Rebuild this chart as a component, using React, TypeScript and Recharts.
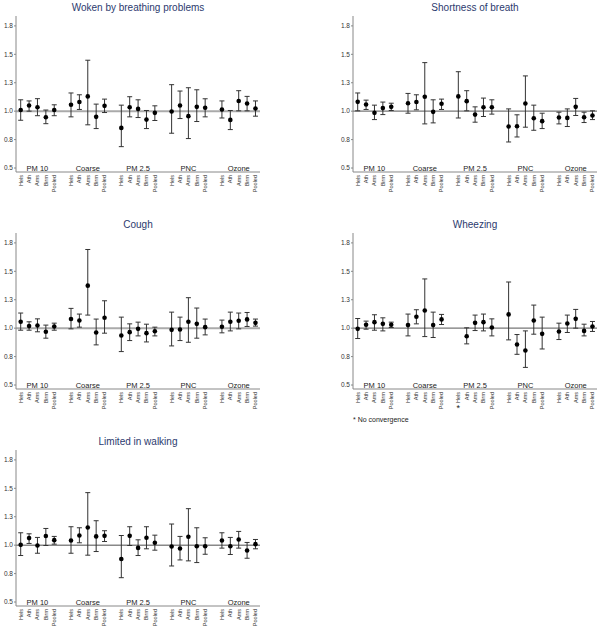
import React from 'react';
import { ScatterChart, Scatter, XAxis, YAxis, ErrorBar, ReferenceLine } from 'recharts';

const pollutants = ['PM 10', 'Coarse', 'PM 2.5', 'PNC', 'Ozone'];
const cities = ['Hels', 'Ath', 'Ams', 'Birm', 'Pooled'];
const yTicks = [0.5, 0.75, 1, 1.25, 1.5, 1.75];

// Woken by breathing problems
const wokenEst = [1.01, 1.05, 1.035, 0.947, 1.01, 1.056, 1.08, 1.13, 0.95, 1.047, 0.853, 1.035, 1.02, 0.926, 0.985, 0.997, 1.05, 0.956, 1.038, 1.03, 1.015, 0.923, 1.09, 1.068, 1.024];
const wokenLo = [0.92, 1.0, 0.96, 0.89, 0.96, 0.95, 1.015, 0.88, 0.847, 0.988, 0.688, 0.95, 0.944, 0.847, 0.918, 0.806, 0.935, 0.759, 0.909, 0.95, 0.94, 0.838, 1.003, 1.003, 0.956];
const wokenHi = [1.1, 1.09, 1.11, 1.01, 1.056, 1.16, 1.144, 1.448, 1.062, 1.106, 1.053, 1.127, 1.1, 1.006, 1.047, 1.233, 1.177, 1.206, 1.188, 1.109, 1.09, 1.006, 1.18, 1.13, 1.09];

// Shortness of breath
const breathEst = [1.082, 1.059, 0.985, 1.027, 1.038, 1.07, 1.08, 1.127, 0.994, 1.065, 1.13, 1.088, 0.97, 1.035, 1.035, 0.865, 0.867, 1.068, 0.938, 0.912, 0.944, 0.941, 1.038, 0.947, 0.962];
const breathLo = [1.003, 1.015, 0.926, 0.97, 1.006, 0.982, 1.012, 0.888, 0.897, 1.015, 0.94, 1.003, 0.903, 0.953, 0.974, 0.729, 0.773, 0.859, 0.832, 0.847, 0.888, 0.865, 0.962, 0.9, 0.926];
const breathHi = [1.16, 1.097, 1.053, 1.08, 1.07, 1.156, 1.144, 1.427, 1.1, 1.106, 1.347, 1.18, 1.038, 1.115, 1.1, 1.02, 0.968, 1.31, 1.053, 0.982, 0.991, 1.02, 1.112, 0.991, 1.003];

// Cough
const coughEst = [1.056, 1.018, 1.024, 0.968, 1.015, 1.08, 1.068, 1.374, 0.962, 1.091, 0.935, 0.965, 0.994, 0.956, 0.973, 0.985, 0.988, 1.056, 1.038, 1.009, 1.012, 1.056, 1.065, 1.077, 1.047];
const coughLo = [0.982, 0.982, 0.968, 0.912, 0.982, 0.994, 1.009, 1.115, 0.853, 0.956, 0.794, 0.891, 0.932, 0.879, 0.932, 0.844, 0.891, 0.876, 0.912, 0.941, 0.959, 0.976, 0.994, 1.015, 1.018];
const coughHi = [1.133, 1.056, 1.082, 1.027, 1.044, 1.174, 1.124, 1.692, 1.08, 1.241, 1.097, 1.038, 1.053, 1.035, 1.009, 1.141, 1.097, 1.268, 1.177, 1.08, 1.071, 1.141, 1.133, 1.138, 1.08];

// Wheezing (PM 2.5 Hels: no convergence)
const wheezeEst = [0.994, 1.03, 1.053, 1.038, 1.03, 1.027, 1.1, 1.156, 1.027, 1.077, null, 0.929, 1.047, 1.053, 1.006, 1.121, 0.856, 0.803, 1.068, 0.95, 0.971, 1.041, 1.082, 0.976, 1.015];
const wheezeLo = [0.909, 0.991, 0.982, 0.976, 1.006, 0.932, 1.038, 0.926, 0.918, 1.032, null, 0.862, 0.979, 0.976, 0.932, 0.897, 0.77, 0.655, 0.947, 0.817, 0.9, 0.962, 1.0, 0.932, 0.971];
const wheezeHi = [1.085, 1.062, 1.118, 1.091, 1.053, 1.124, 1.162, 1.433, 1.141, 1.121, null, 1.003, 1.115, 1.124, 1.082, 1.406, 0.944, 0.976, 1.203, 1.097, 1.044, 1.115, 1.165, 1.035, 1.059];

// Limited in walking
const walkEst = [1.003, 1.062, 0.997, 1.08, 1.044, 1.041, 1.085, 1.156, 1.077, 1.082, 0.879, 1.082, 0.976, 1.065, 1.021, 0.988, 0.971, 1.074, 0.991, 0.991, 1.041, 0.991, 1.05, 0.953, 1.009];
const walkLo = [0.909, 1.015, 0.929, 0.997, 1.009, 0.929, 1.021, 0.912, 0.944, 1.032, 0.714, 0.997, 0.909, 0.968, 0.956, 0.817, 0.87, 0.862, 0.847, 0.92, 0.974, 0.918, 0.974, 0.885, 0.968];
const walkHi = [1.109, 1.1, 1.068, 1.147, 1.077, 1.162, 1.153, 1.462, 1.215, 1.127, 1.085, 1.162, 1.047, 1.162, 1.088, 1.186, 1.077, 1.321, 1.153, 1.065, 1.109, 1.068, 1.121, 1.024, 1.05];

type Row = { x: number; v: number; err: [number, number] };

function buildRows(est: (number | null)[], lo: (number | null)[], hi: (number | null)[]): Row[] {
  const rows: Row[] = [];
  for (let p = 0; p < pollutants.length; p++) {
    for (let c = 0; c < cities.length; c++) {
      const i = p * cities.length + c;
      const v = est[i];
      const l = lo[i];
      const h = hi[i];
      if (v == null || l == null || h == null) continue;
      rows.push({ x: p * 6 + c, v, err: [v - l, h - v] });
    }
  }
  return rows;
}

const xTicks: number[] = [];
for (let p = 0; p < pollutants.length; p++) for (let c = 0; c < cities.length; c++) xTicks.push(p * 6 + c);

const makeTick = (starSlots: number[]) => (props: any) => {
  const { x, y, payload } = props;
  const slot = payload.value as number;
  const p = Math.floor(slot / 6);
  const c = slot % 6;
  return (
    <g>
      {c === 2 && (
        <text x={x} y={y - 3} textAnchor="middle" fontSize={7.5} fill="#222">
          {pollutants[p]}
        </text>
      )}
      <text transform={`translate(${x},${y + 1}) rotate(-90)`} textAnchor="end" dy="0.35em" fontSize={5.5} fill="#333">
        {cities[c]}
      </text>
      {starSlots.includes(slot) && (
        <text x={x} y={y + 20} textAnchor="middle" fontSize={9} fill="#222">*</text>
      )}
    </g>
  );
};

const Dot = (props: any) => <circle cx={props.cx} cy={props.cy} r={2.3} fill="#000" />;

type PanelProps = {
  title: string;
  rows: Row[];
  left: number;
  top: number;
  refStroke: string;
  refWidth: number;
  starSlots?: number[];
};

function Panel({ title, rows, left, top, refStroke, refWidth, starSlots = [] }: PanelProps) {
  return (
    <div style={{ position: 'absolute', left, top, width: 263, height: 217 }}>
      <div style={{ position: 'absolute', left: 16, top: 2, width: 244, textAlign: 'center', fontSize: 10, lineHeight: '12px', color: '#2c3a6e' }}>
        {title}
      </div>
      <ScatterChart width={263} height={217} margin={{ top: 16, right: 3, left: 0, bottom: 0 }}>
        <XAxis
          dataKey="x"
          type="number"
          domain={[-0.56, 28.54]}
          ticks={xTicks}
          interval={0}
          tickLine={false}
          tickSize={0}
          tickMargin={2}
          height={45}
          axisLine={{ stroke: '#888' }}
          tick={makeTick(starSlots)}
          allowDataOverflow
        />
        <YAxis
          dataKey="v"
          type="number"
          domain={[0.465, 1.837]}
          ticks={yTicks}
          width={16}
          tickSize={2}
          tickMargin={1}
          axisLine={{ stroke: '#888' }}
          tickLine={{ stroke: '#888' }}
          tick={{ fontSize: 6.5, fill: '#333' }}
          tickFormatter={(v: number) => v.toFixed(1)}
          allowDataOverflow
        />
        <ReferenceLine y={1} stroke={refStroke} strokeWidth={refWidth} />
        <Scatter data={rows} dataKey="v" shape={<Dot />} isAnimationActive={false}>
          <ErrorBar dataKey="err" direction="y" width={2.5} stroke="#333" strokeWidth={1} />
        </Scatter>
      </ScatterChart>
    </div>
  );
}

export default function App() {
  return (
    <div style={{ position: 'absolute', left: 0, top: 0, width: 600, height: 628, background: '#fff', fontFamily: 'Liberation Sans, Arial, sans-serif', overflow: 'hidden' }}>
      <Panel title="Woken by breathing problems" rows={buildRows(wokenEst, wokenLo, wokenHi)} left={0} top={0} refStroke="#aaa" refWidth={2} />
      <Panel title="Shortness of breath" rows={buildRows(breathEst, breathLo, breathHi)} left={337} top={0} refStroke="#777" refWidth={1.2} />
      <Panel title="Cough" rows={buildRows(coughEst, coughLo, coughHi)} left={0} top={217} refStroke="#aaa" refWidth={2} />
      <Panel title="Wheezing" rows={buildRows(wheezeEst, wheezeLo, wheezeHi)} left={337} top={217} refStroke="#777" refWidth={1.2} starSlots={[12]} />
      <Panel title="Limited in walking" rows={buildRows(walkEst, walkLo, walkHi)} left={0} top={434} refStroke="#888" refWidth={1.5} />
      <div style={{ position: 'absolute', left: 353, top: 416, fontSize: 7, color: '#222' }}>* No convergence</div>
    </div>
  );
}
